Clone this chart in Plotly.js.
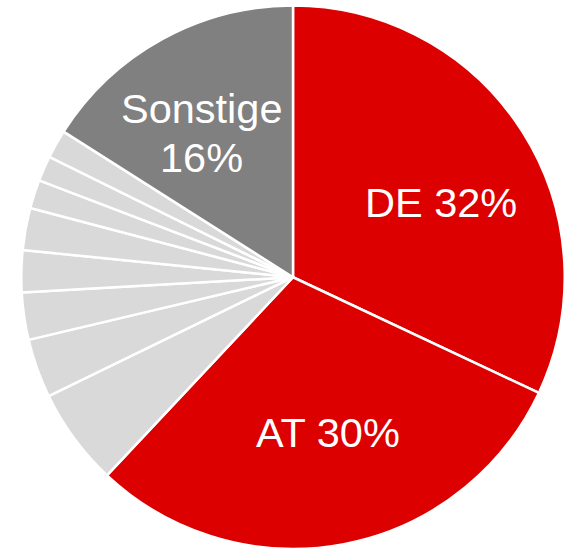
<!DOCTYPE html>
<html>
<head>
<meta charset="utf-8">
<script src="https://cdn.plot.ly/plotly-3.0.1.min.js"></script>
<style>html,body{margin:0;padding:0;background:#fff;}#chart{width:569px;height:549px;}</style>
</head>
<body>
<div id="chart"></div>
<script>
// Data
const labels = ["DE", "AT", "L1", "L2", "L3", "L4", "L5", "L6", "L7", "L8", "Sonstige"];
const values = [32, 30, 5.8, 3.5, 2.8, 2.5, 2.5, 1.7, 1.5, 1.7, 16];
const colors = ["#DC0000", "#DC0000", "#D9D9D9", "#D9D9D9", "#D9D9D9", "#D9D9D9", "#D9D9D9", "#D9D9D9", "#D9D9D9", "#D9D9D9", "#808080"];
const labelLines = [["DE 32%"], ["AT 30%"], ["Sonstige", "16%"]];

const trace = {
  type: "pie",
  labels: labels,
  values: values,
  sort: false,
  direction: "clockwise",
  rotation: 0,
  marker: {colors: colors, line: {color: "#FFFFFF", width: 2.5}},
  textinfo: "none",
  hoverinfo: "label+value",
  showlegend: false,
  domain: {x: [0.0374, 0.9925], y: [0, 0.99]}
};

const fnt = {family: "Liberation Sans, Arial, sans-serif", size: 41.5, color: "#FFFFFF"};
const annPos = [[[0.775, 0.632]], [[0.5765, 0.213]], [[0.355, 0.803], [0.355, 0.714]]];
const annotations = [];
labelLines.forEach((lines, i) => {
  lines.forEach((t, j) => {
    annotations.push({
      text: t, xref: "paper", yref: "paper",
      x: annPos[i][j][0], y: annPos[i][j][1], xanchor: "center", yanchor: "middle",
      showarrow: false, font: fnt
    });
  });
});

const layout = {
  width: 569, height: 549,
  margin: {l: 0, r: 0, t: 0, b: 0},
  paper_bgcolor: "#FFFFFF",
  annotations: annotations
};

Plotly.newPlot("chart", [trace], layout, {displayModeBar: false, staticPlot: true});
</script>
</body>
</html>
